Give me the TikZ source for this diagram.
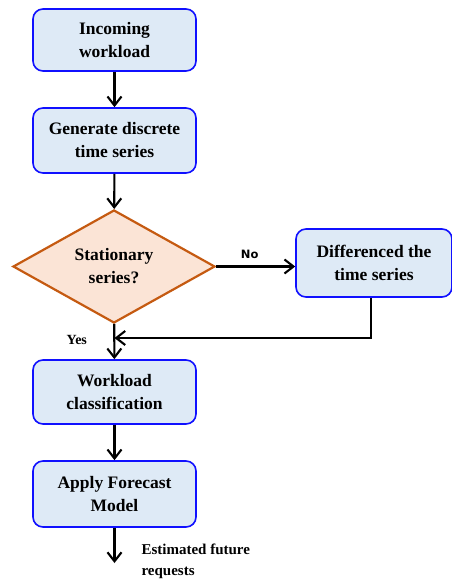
\documentclass[tikz,border=0pt]{standalone}
\usepackage{fontspec}
\setmainfont{Liberation Serif}
\newfontfamily\labelfont{DejaVu Sans}
\usetikzlibrary{shapes.geometric,arrows.meta,positioning}
\definecolor{boxfill}{HTML}{DEEAF6}
\definecolor{boxline}{HTML}{1010FF}
\definecolor{decfill}{HTML}{FBE4D6}
\definecolor{decline}{HTML}{C55A11}
\tikzset{
stepbox/.style=
    {rectangle,rounded corners=10pt,
    fill=boxfill,
    draw=boxline,
    line width=1.6pt,
    minimum width=163pt,
    minimum height=62pt,
    align=center,
    font=\fontsize{17.5}{23}\selectfont\bfseries
    },
decision/.style=
    {diamond,aspect=1.79,
    fill=decfill,
    draw=decline,
    line width=2.2pt,
    minimum width=202pt,
    minimum height=113pt,
    inner sep=0pt,
    align=center,
    font=\fontsize{17.5}{23}\selectfont\bfseries
    },
flow/.style=
    {draw=black,
    line width=2.1pt,
    -{Straight Barb[length=9pt,width=14pt,line width=2.1pt]}
    }}

\begin{document}
\begin{tikzpicture}[x=1pt,y=1pt]
\useasboundingbox (0,0) rectangle (451,-584);
% main column
\node (incoming) [stepbox] at (114.5,-40) {Incoming\\workload};
\node (generate) [stepbox,minimum height=65pt] at (114.5,-140.5) {Generate discrete\\time series};
\node (stationary) [decision] at (114,-266.5) {Stationary\\series?};
\node (differenced) [stepbox,minimum width=156pt,minimum height=68pt] at (374,-263) {Differenced the\\time series};
\node (classify) [stepbox,minimum height=64pt] at (114.5,-392) {Workload\\classification};
\node (forecast) [stepbox,minimum height=66pt] at (114.5,-494) {Apply Forecast\\Model};
\coordinate (join) at (114.5,-338);
\coordinate (output) at (114.5,-563);
% connectors
\draw[flow] (incoming) -- (generate);
\draw[flow] (generate) -- (stationary);
\draw[flow] (stationary) -- node[above=3pt,xshift=-6pt,font=\labelfont\fontsize{11.5}{13}\selectfont\bfseries]{No} (differenced.west |- stationary);
\draw[flow] (stationary) -- node[left=23pt,pos=0.46,font=\fontsize{14}{16}\selectfont\bfseries]{Yes} (classify);
\draw[flow] (differenced.south -| 371,0) |- (join);
\draw[flow] (classify) -- (forecast);
\draw[flow] (forecast) -- (output);
\node (estimate) [anchor=west,align=left,font=\fontsize{15}{21}\selectfont\bfseries] at (138,-561) {Estimated future\\requests};
\end{tikzpicture}
\end{document}
